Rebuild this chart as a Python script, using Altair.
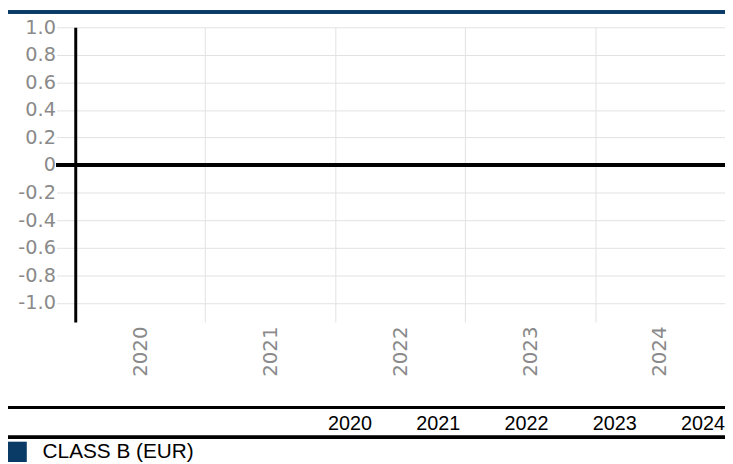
import altair as alt
import pandas as pd

# ---- data ----
years = ["2020", "2021", "2022", "2023", "2024"]
series_name = "CLASS B (EUR)"
class_b_values = [None, None, None, None, None]   # no values shown in the reference
y_ticks = [-1.0, -0.8, -0.6, -0.4, -0.2, 0.0, 0.2, 0.4, 0.6, 0.8, 1.0]

df = pd.DataFrame({"year": years, "value": class_b_values, "series": [series_name] * len(years)})
hdr = pd.DataFrame({"year": years})

BLUE = "#0a3a66"
GRID = "#e2e2e2"
LABEL_GRAY = "#8a8a8a"
W, H = 657, 298

y_scale = alt.Scale(domain=[-1.14, 1.0], nice=False, zero=False)
y_axis = alt.Axis(values=y_ticks, grid=True, gridColor=GRID, gridWidth=1,
                  tickColor=GRID, tickSize=19, tickWidth=1,
                  domainColor="black", domainWidth=3,
                  labelFont="DejaVu Sans", labelFontSize=19.5, labelColor=LABEL_GRAY,
                  labelPadding=1, labelBound=False, labelOverlap=False, labelFlush=False,
                  labelExpr="datum.value == 0 ? '0' : (datum.value < 0 ? '-' : '') + format(abs(datum.value), '.1f')")

bars = alt.Chart(df).mark_bar().encode(
    x=alt.X("year:N", sort=years, title=None,
            scale=alt.Scale(paddingInner=0, paddingOuter=0),
            axis=alt.Axis(tickBand="extent", grid=True, gridColor=GRID, gridWidth=1,
                          ticks=False, domain=False, labelAngle=270,
                          labelFont="DejaVu Sans", labelFontSize=20, labelColor=LABEL_GRAY,
                          labelPadding=4)),
    y=alt.Y("value:Q", scale=y_scale, title=None, axis=y_axis),
    color=alt.Color("series:N",
                    scale=alt.Scale(domain=[series_name], range=[BLUE]),
                    legend=alt.Legend(title=None, orient="none", legendX=-70, legendY=419,
                                      symbolType="square", symbolSize=441, symbolStrokeWidth=0,
                                      labelFont="Liberation Sans", labelFontSize=21,
                                      labelColor="black", labelOffset=16, padding=0)),
)

zero_line = alt.Chart(df).mark_rule(color="black", strokeWidth=4).encode(
    y=alt.Y(datum=0, scale=y_scale, title=None, axis=y_axis), x=alt.value(-19), x2=alt.value(W)
)

top_band = alt.Chart(df).mark_rule(color=BLUE, strokeWidth=3).encode(
    x=alt.value(-76), x2=alt.value(W), y=alt.value(-15.5)
)

rule_top = alt.Chart(df).mark_rule(color="black", strokeWidth=3).encode(
    x=alt.value(-76), x2=alt.value(W), y=alt.value(384.5)
)
rule_bot = alt.Chart(df).mark_rule(color="black", strokeWidth=3).encode(
    x=alt.value(-76), x2=alt.value(W), y=alt.value(414.5)
)

header = alt.Chart(hdr).mark_text(align="right", baseline="middle", font="Liberation Sans",
                                  fontSize=20, color="black").encode(
    x=alt.X("year:N", sort=years, axis=None,
            scale=alt.Scale(type="point", range=[300, 657], padding=0)),
    text="year:N",
    y=alt.value(401),
)

chart = alt.layer(bars, zero_line, top_band, rule_top, rule_bot, header).resolve_scale(
    x="independent"
).properties(
    width=W, height=H,
    padding={"left": 68, "top": 17, "right": 0, "bottom": 139},
    autosize=alt.AutoSizeParams(type="none"),
).configure_view(strokeWidth=0)

chart.save("out.html", embed_options={"renderer": "svg", "actions": False})
